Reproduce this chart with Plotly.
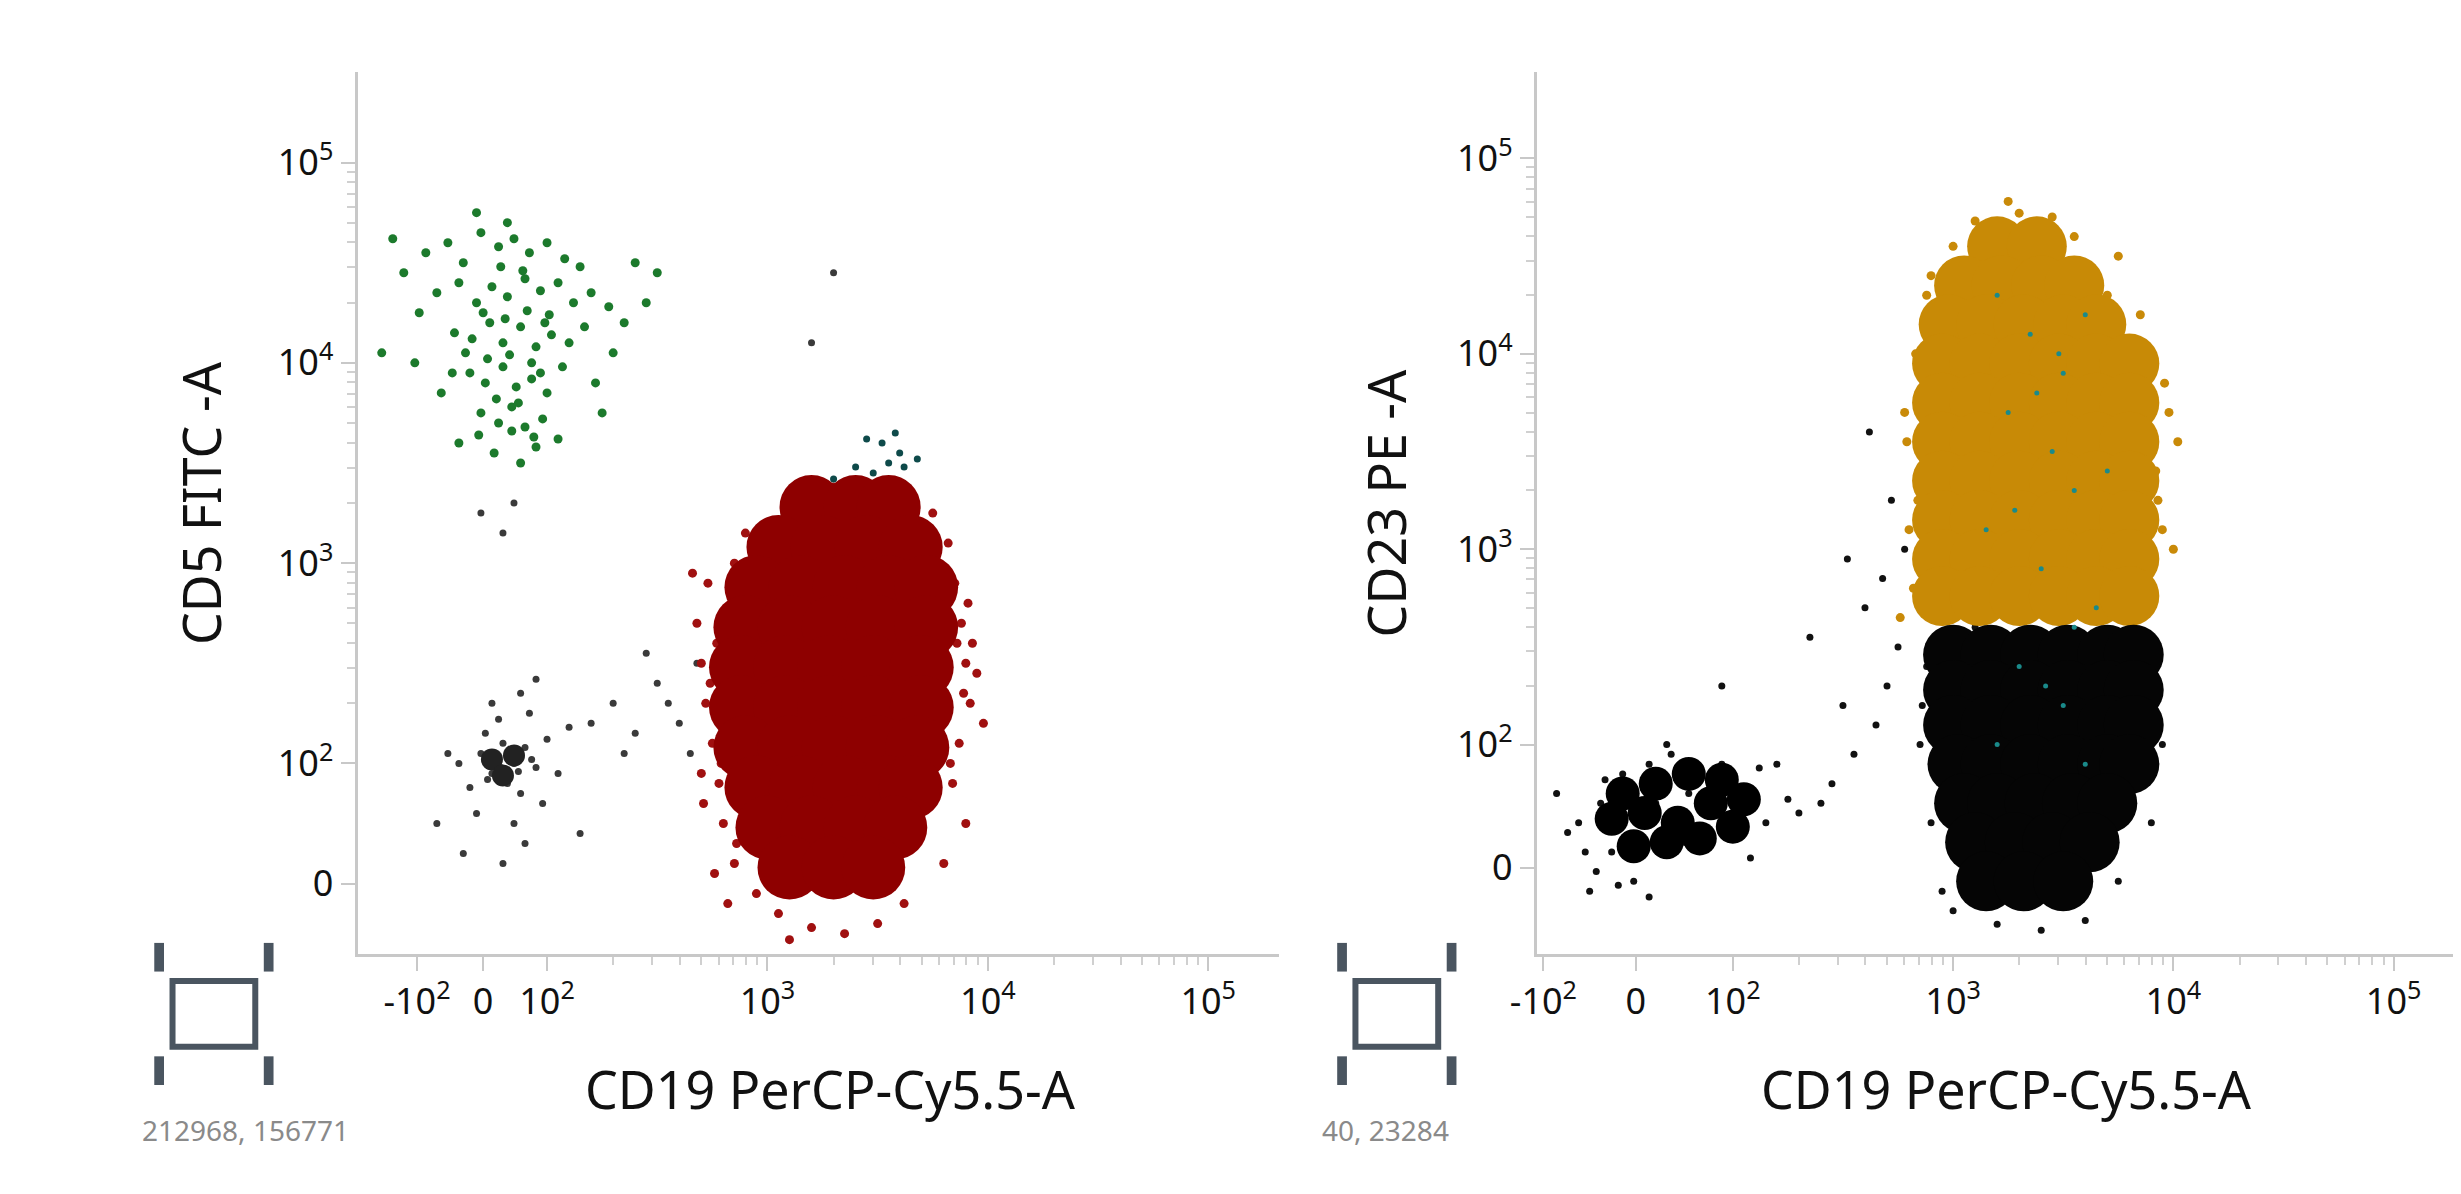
import plotly.graph_objects as go

# display units: 10^2 -> 2, 10^3 -> 3, 10^4 -> 4, 10^5 -> 5 (biexponential-like axes)
tick_text = ["-10<sup>2</sup>", "0", "10<sup>2</sup>", "10<sup>3</sup>", "10<sup>4</sup>", "10<sup>5</sup>"]
left_x_ticks = [1.41, 1.71, 2, 3, 4, 5]
left_y_ticks = [1.40, 2, 3, 4, 5]
right_x_ticks = [1.14, 1.56, 2, 3, 4, 5]
right_y_ticks = [1.37, 2, 3, 4, 5]
y_tick_text = ["0", "10<sup>2</sup>", "10<sup>3</sup>", "10<sup>4</sup>", "10<sup>5</sup>"]

# ---- left plot: CD19 vs CD5 ----
green_x = [1.45, 1.55, 1.62, 1.7, 1.78, 1.85, 1.92, 2.0, 2.08, 2.15, 1.5, 1.6, 1.68, 1.75, 1.82, 1.9, 1.97, 2.05,
           2.12, 2.2, 2.28, 1.58, 1.66, 1.74, 1.8, 1.88, 1.95, 2.02, 2.1, 1.65, 1.72, 1.8, 1.86, 1.93, 2.0, 1.7,
           1.78, 1.84, 1.9, 1.98, 1.35, 1.42, 2.3, 2.4, 2.45, 1.3, 2.22, 1.52, 2.35, 1.6, 2.05, 1.76, 1.88, 1.95,
           1.68, 1.25, 2.5, 1.4, 1.82, 2.25, 1.73, 1.83, 1.93, 1.77, 1.87, 1.97, 1.71, 1.81, 1.91, 2.01,
           1.63, 1.79, 1.89, 1.99, 1.69, 1.84, 1.94, 1.57, 2.07, 2.17]
green_y = [4.55, 4.6, 4.5, 4.65, 4.58, 4.62, 4.55, 4.6, 4.52, 4.48, 4.35, 4.4, 4.3, 4.38, 4.33, 4.42, 4.36, 4.4,
           4.3, 4.35, 4.28, 4.15, 4.12, 4.2, 4.1, 4.18, 4.08, 4.14, 4.1, 3.95, 3.9, 3.98, 3.88, 3.92, 3.85, 3.75,
           3.7, 3.78, 3.68, 3.72, 4.45, 4.25, 4.05, 4.5, 4.3, 4.62, 3.9, 3.85, 4.2, 3.6, 3.62, 3.55, 3.5, 3.58,
           4.75, 4.05, 4.45, 4.0, 4.7, 3.75, 4.02, 4.04, 4.0, 3.82, 3.8, 3.95, 4.25, 4.22, 4.26, 4.24,
           4.05, 4.48, 4.46, 4.2, 3.64, 3.66, 3.63, 3.95, 3.98, 4.18]
gray_left_x = [1.6, 1.7, 1.75, 1.8, 1.85, 1.9, 1.95, 1.72, 1.82, 1.88, 1.65, 2.0, 2.05, 1.78, 1.92, 1.55, 2.1,
               1.68, 1.85, 1.98, 2.2, 2.3, 2.4, 2.5, 2.6, 2.68, 2.15, 2.35, 2.55, 1.5, 1.62, 1.9, 2.45, 1.75,
               1.88, 1.8, 1.95, 2.65, 3.3, 3.2, 1.8, 1.85, 1.7, 1.77, 1.83, 1.87, 1.79, 1.73, 1.93]
gray_left_y = [2.0, 2.05, 1.95, 2.1, 2.0, 2.08, 1.98, 2.15, 1.9, 1.85, 1.88, 2.12, 1.95, 2.22, 2.25, 2.05, 2.18,
               1.75, 1.7, 1.8, 2.2, 2.3, 2.15, 2.4, 2.2, 2.5, 1.65, 2.05, 2.3, 1.7, 1.55, 1.6, 2.55, 2.3,
               2.35, 1.5, 2.42, 2.05, 4.45, 4.1, 3.15, 3.3, 3.25, 2.02, 2.06, 1.96, 1.98, 1.92, 2.02]
gray_blob_x = [1.75, 1.85, 1.8]
gray_blob_y = [2.02, 2.04, 1.94]
red_core_x = [3.2, 3.4, 3.55, 3.05, 3.25, 3.45, 3.65, 2.95, 3.15, 3.35, 3.55, 3.72, 2.9, 3.1, 3.3, 3.5, 3.72,
              2.88, 3.08, 3.28, 3.48, 3.7, 2.88, 3.08, 3.28, 3.48, 3.7, 2.9, 3.1, 3.3, 3.5, 3.68, 2.95, 3.15,
              3.35, 3.55, 3.65, 3.0, 3.2, 3.4, 3.58, 3.1, 3.3, 3.48]
red_core_y = [3.28, 3.28, 3.28, 3.08, 3.08, 3.08, 3.08, 2.88, 2.88, 2.88, 2.88, 2.88, 2.68, 2.68, 2.68, 2.68,
              2.68, 2.48, 2.48, 2.48, 2.48, 2.48, 2.28, 2.28, 2.28, 2.28, 2.28, 2.08, 2.08, 2.08, 2.08, 2.08,
              1.88, 1.88, 1.88, 1.88, 1.88, 1.68, 1.68, 1.68, 1.68, 1.48, 1.48, 1.48]
red_halo_x = [2.68, 2.7, 2.72, 2.75, 2.78, 2.8, 2.73, 2.77, 2.82, 2.7, 2.76, 2.85, 3.85, 3.88, 3.9, 3.92, 3.87,
              3.84, 3.9, 3.95, 3.82, 3.8, 2.95, 3.05, 3.2, 3.35, 3.5, 3.62, 3.0, 3.15, 3.3, 3.45, 2.85, 3.75,
              2.66, 2.9, 3.98, 3.1, 3.4, 2.82, 2.74, 2.79, 2.71, 3.86, 3.91, 3.83, 2.8, 2.86, 3.93, 3.89]
red_halo_y = [2.7, 2.5, 2.3, 2.1, 1.9, 1.7, 2.9, 2.6, 2.2, 1.95, 1.45, 3.0, 2.9, 2.7, 2.5, 2.3, 2.1, 1.9, 1.7,
              2.45, 3.1, 1.5, 1.35, 1.25, 1.18, 1.15, 1.2, 1.3, 3.2, 3.35, 3.38, 3.36, 1.5, 3.25, 2.95,
              3.15, 2.2, 1.12, 3.4, 1.3, 2.4, 2.0, 1.8, 2.6, 2.8, 2.0, 2.75, 1.6, 2.6, 2.35]
teal_left_x = [3.48, 3.55, 3.6, 3.62, 3.68, 3.52, 3.45, 3.58, 3.4, 3.3]
teal_left_y = [3.45, 3.5, 3.55, 3.48, 3.52, 3.6, 3.62, 3.65, 3.48, 3.42]

# ---- right plot: CD19 vs CD23 ----
orange_core_x = [3.2, 3.38, 3.05, 3.22, 3.4, 3.55, 2.98, 3.15, 3.32, 3.5, 3.65,
                 2.95, 3.12, 3.3, 3.48, 3.65, 3.8, 2.95, 3.12, 3.3, 3.48, 3.65, 3.8,
                 2.95, 3.12, 3.3, 3.48, 3.65, 3.8, 2.95, 3.12, 3.3, 3.48, 3.65, 3.8,
                 2.95, 3.12, 3.3, 3.48, 3.65, 3.8, 2.95, 3.12, 3.3, 3.48, 3.65, 3.8,
                 2.95, 3.12, 3.3, 3.48, 3.65, 3.8]
orange_core_y = [4.55, 4.55, 4.35, 4.35, 4.35, 4.35, 4.15, 4.15, 4.15, 4.15, 4.15,
                 3.95, 3.95, 3.95, 3.95, 3.95, 3.95, 3.75, 3.75, 3.75, 3.75, 3.75, 3.75,
                 3.55, 3.55, 3.55, 3.55, 3.55, 3.55, 3.35, 3.35, 3.35, 3.35, 3.35, 3.35,
                 3.15, 3.15, 3.15, 3.15, 3.15, 3.15, 2.95, 2.95, 2.95, 2.95, 2.95, 2.95,
                 2.76, 2.76, 2.76, 2.76, 2.76, 2.76]
orange_halo_x = [2.82, 2.8, 2.85, 2.78, 2.83, 2.88, 3.9, 3.95, 3.92, 3.98, 3.88, 4.02, 2.9, 3.0, 3.6, 3.7,
                 3.1, 3.3, 3.45, 2.76, 3.85, 4.0, 2.92, 3.75, 3.25, 2.84, 2.79, 3.93, 3.96, 3.15, 3.55]
orange_halo_y = [2.8, 3.1, 3.4, 3.7, 4.0, 4.3, 2.8, 3.1, 3.4, 3.7, 4.0, 3.55, 4.4, 4.55, 4.45, 4.3, 4.68,
                 4.72, 4.7, 2.65, 4.2, 3.0, 2.68, 4.5, 4.78, 3.25, 3.55, 3.25, 3.85, 4.6, 4.6]
black_core_x = [3.0, 3.17, 3.35, 3.52, 3.7, 3.82, 3.0, 3.17, 3.35, 3.52, 3.7, 3.82,
                3.0, 3.17, 3.35, 3.52, 3.7, 3.82, 3.02, 3.17, 3.35, 3.52, 3.7, 3.8,
                3.05, 3.2, 3.37, 3.54, 3.7, 3.1, 3.28, 3.45, 3.62, 3.15, 3.32, 3.5]
black_core_y = [2.46, 2.46, 2.46, 2.46, 2.46, 2.46, 2.28, 2.28, 2.28, 2.28, 2.28, 2.28,
                2.1, 2.1, 2.1, 2.1, 2.1, 2.1, 1.9, 1.9, 1.9, 1.9, 1.9, 1.9,
                1.7, 1.7, 1.7, 1.7, 1.7, 1.5, 1.5, 1.5, 1.5, 1.3, 1.3, 1.3]
black_right_x = [2.88, 2.85, 2.9, 2.86, 3.92, 3.95, 3.9, 3.0, 3.2, 3.4, 3.6, 2.95, 3.75, 3.1, 3.3,
                 2.45, 2.55, 2.65, 2.7, 2.75, 2.6, 2.4, 2.3, 2.5, 2.78, 2.68, 2.62, 2.72, 2.52, 2.35,
                 1.3, 1.4, 1.5, 1.55, 1.6, 1.65, 1.7, 1.75, 1.8, 1.9, 2.0, 2.1, 1.45, 1.58, 1.68, 1.78,
                 1.88, 1.98, 1.5, 1.62, 1.72, 1.85, 1.95, 2.05, 1.2, 1.35, 2.2, 1.95, 1.55, 1.7,
                 1.25, 1.33, 1.42, 2.15, 2.25, 2.12, 1.38, 1.48, 2.08, 1.62]
black_right_y = [2.4, 2.0, 1.6, 2.2, 2.4, 2.0, 1.6, 1.15, 1.08, 1.05, 1.1, 1.25, 1.3, 2.6, 2.58,
                 1.8, 1.95, 2.1, 2.3, 2.5, 2.7, 1.7, 1.65, 2.2, 3.0, 2.85, 3.6, 3.25, 2.95, 2.55,
                 1.6, 1.7, 1.65, 1.75, 1.6, 1.7, 1.8, 1.6, 1.75, 1.7, 1.8, 1.75, 1.45, 1.5, 1.48, 1.5,
                 1.55, 1.6, 1.85, 1.9, 1.95, 1.88, 1.9, 1.65, 1.75, 1.25, 1.9, 2.3, 1.3, 2.0,
                 1.55, 1.45, 1.82, 1.6, 1.72, 1.88, 1.35, 1.28, 1.42, 1.22]
black_blob_x = [1.45, 1.6, 1.75, 1.9, 2.05, 1.55, 1.7, 1.85, 2.0, 1.65, 1.8, 1.5, 1.95]
black_blob_y = [1.62, 1.65, 1.6, 1.7, 1.72, 1.48, 1.5, 1.52, 1.58, 1.8, 1.85, 1.75, 1.82]
teal_right_x = [3.2, 3.35, 3.5, 3.6, 3.25, 3.45, 3.55, 3.15, 3.4, 3.65, 3.3, 3.5, 3.2, 3.6, 3.38, 3.48, 3.28,
                3.55, 3.42, 3.7]
teal_right_y = [4.3, 4.1, 3.9, 4.2, 3.7, 3.5, 3.3, 3.1, 2.9, 2.7, 2.4, 2.2, 2.0, 1.9, 3.8, 4.0, 3.2, 2.6,
                2.3, 3.4]


def dots(x, y, color, size, xa, ya):
    return go.Scatter(x=x, y=y, mode="markers", xaxis=xa, yaxis=ya, showlegend=False, hoverinfo="skip",
                      marker=dict(color=color, size=size, line=dict(width=0)))


fig = go.Figure()
fig.add_trace(dots(gray_left_x, gray_left_y, "#3a3a3a", 7, "x", "y"))
fig.add_trace(dots(gray_blob_x, gray_blob_y, "#222222", 22, "x", "y"))
fig.add_trace(dots(green_x, green_y, "#1c7a2c", 9, "x", "y"))
fig.add_trace(dots(red_halo_x, red_halo_y, "#a01010", 9, "x", "y"))
fig.add_trace(dots(red_core_x, red_core_y, "#8e0000", 64, "x", "y"))
fig.add_trace(dots(teal_left_x, teal_left_y, "#0e4a4a", 7, "x", "y"))

fig.add_trace(dots(black_right_x, black_right_y, "#111111", 7, "x2", "y2"))
fig.add_trace(dots(black_blob_x, black_blob_y, "#000000", 34, "x2", "y2"))
fig.add_trace(dots(orange_halo_x, orange_halo_y, "#c98a08", 9, "x2", "y2"))
fig.add_trace(dots(orange_core_x, orange_core_y, "#c88a06", 60, "x2", "y2"))
fig.add_trace(dots(black_core_x, black_core_y, "#050505", 60, "x2", "y2"))
fig.add_trace(dots(teal_right_x, teal_right_y, "#1a8a8a", 5, "x2", "y2"))

minor_vals = [d + m for d in (2, 3, 4) for m in (0.301, 0.477, 0.602, 0.699, 0.778, 0.845, 0.903, 0.954)]
tickfont = dict(family="Noto Sans", size=36, color="#111111")
axis_common = dict(showgrid=False, zeroline=False, showline=True, linecolor="#c8c8c8", linewidth=3,
                   ticks="outside", tickcolor="#c8c8c8", ticklen=14, tickwidth=2, tickfont=tickfont,
                   tickmode="array", minor=dict(tickvals=minor_vals, ticks="outside", ticklen=8,
                                                tickcolor="#d0d0d0", tickwidth=2))

fig.update_layout(
    width=2461, height=1194, plot_bgcolor="white", paper_bgcolor="white",
    margin=dict(l=0, r=0, t=0, b=0),
    xaxis=dict(domain=[0.1325, 0.511], range=[1.14, 5.32], tickvals=left_x_ticks, ticktext=tick_text,
               anchor="y", **axis_common),
    yaxis=dict(domain=[0.208, 0.946], range=[1.05, 5.45], tickvals=left_y_ticks, ticktext=y_tick_text,
               anchor="x", **axis_common),
    xaxis2=dict(domain=[0.617, 0.998], range=[1.11, 5.32], tickvals=right_x_ticks, ticktext=tick_text,
                anchor="y2", **axis_common),
    yaxis2=dict(domain=[0.208, 0.946], range=[0.93, 5.44], tickvals=right_y_ticks, ticktext=y_tick_text,
                anchor="x2", **axis_common),
)

title_font = dict(family="Noto Sans", size=52, color="#111111")
for xc, txt in [(0.327, "CD19 PerCP-Cy5.5-A"), (0.81, "CD19 PerCP-Cy5.5-A")]:
    fig.add_annotation(x=xc, y=0.095, xref="paper", yref="paper", text=txt, showarrow=False, font=title_font,
                       xanchor="center", yanchor="middle")
for xc, txt in [(0.068, "CD5 FITC -A"), (0.555, "CD23 PE -A")]:
    fig.add_annotation(x=xc, y=0.585, xref="paper", yref="paper", text=txt, showarrow=False, font=title_font,
                       textangle=-90, xanchor="center", yanchor="middle")
for xc, txt in [(0.043, "212968, 156771"), (0.528, "40, 23284")]:
    fig.add_annotation(x=xc, y=0.06, xref="paper", yref="paper", text=txt, showarrow=False, xanchor="left",
                       yanchor="middle", font=dict(family="Noto Sans", size=28, color="#8a8a8a"))

# gate icons
for x0 in (0.051, 0.537):
    fig.add_shape(type="rect", xref="paper", yref="paper", x0=x0 + 0.0055, x1=x0 + 0.0395, y0=0.13, y1=0.185,
                  line=dict(color="#4a5560", width=6))
    for cx, cy in [(x0, 0.205), (x0 + 0.045, 0.205), (x0, 0.11), (x0 + 0.045, 0.11)]:
        fig.add_shape(type="rect", xref="paper", yref="paper", x0=cx - 0.002, x1=cx + 0.002,
                      y0=cy - 0.012, y1=cy + 0.012, fillcolor="#4a5560", line=dict(width=0))

fig.write_html("out.html")
